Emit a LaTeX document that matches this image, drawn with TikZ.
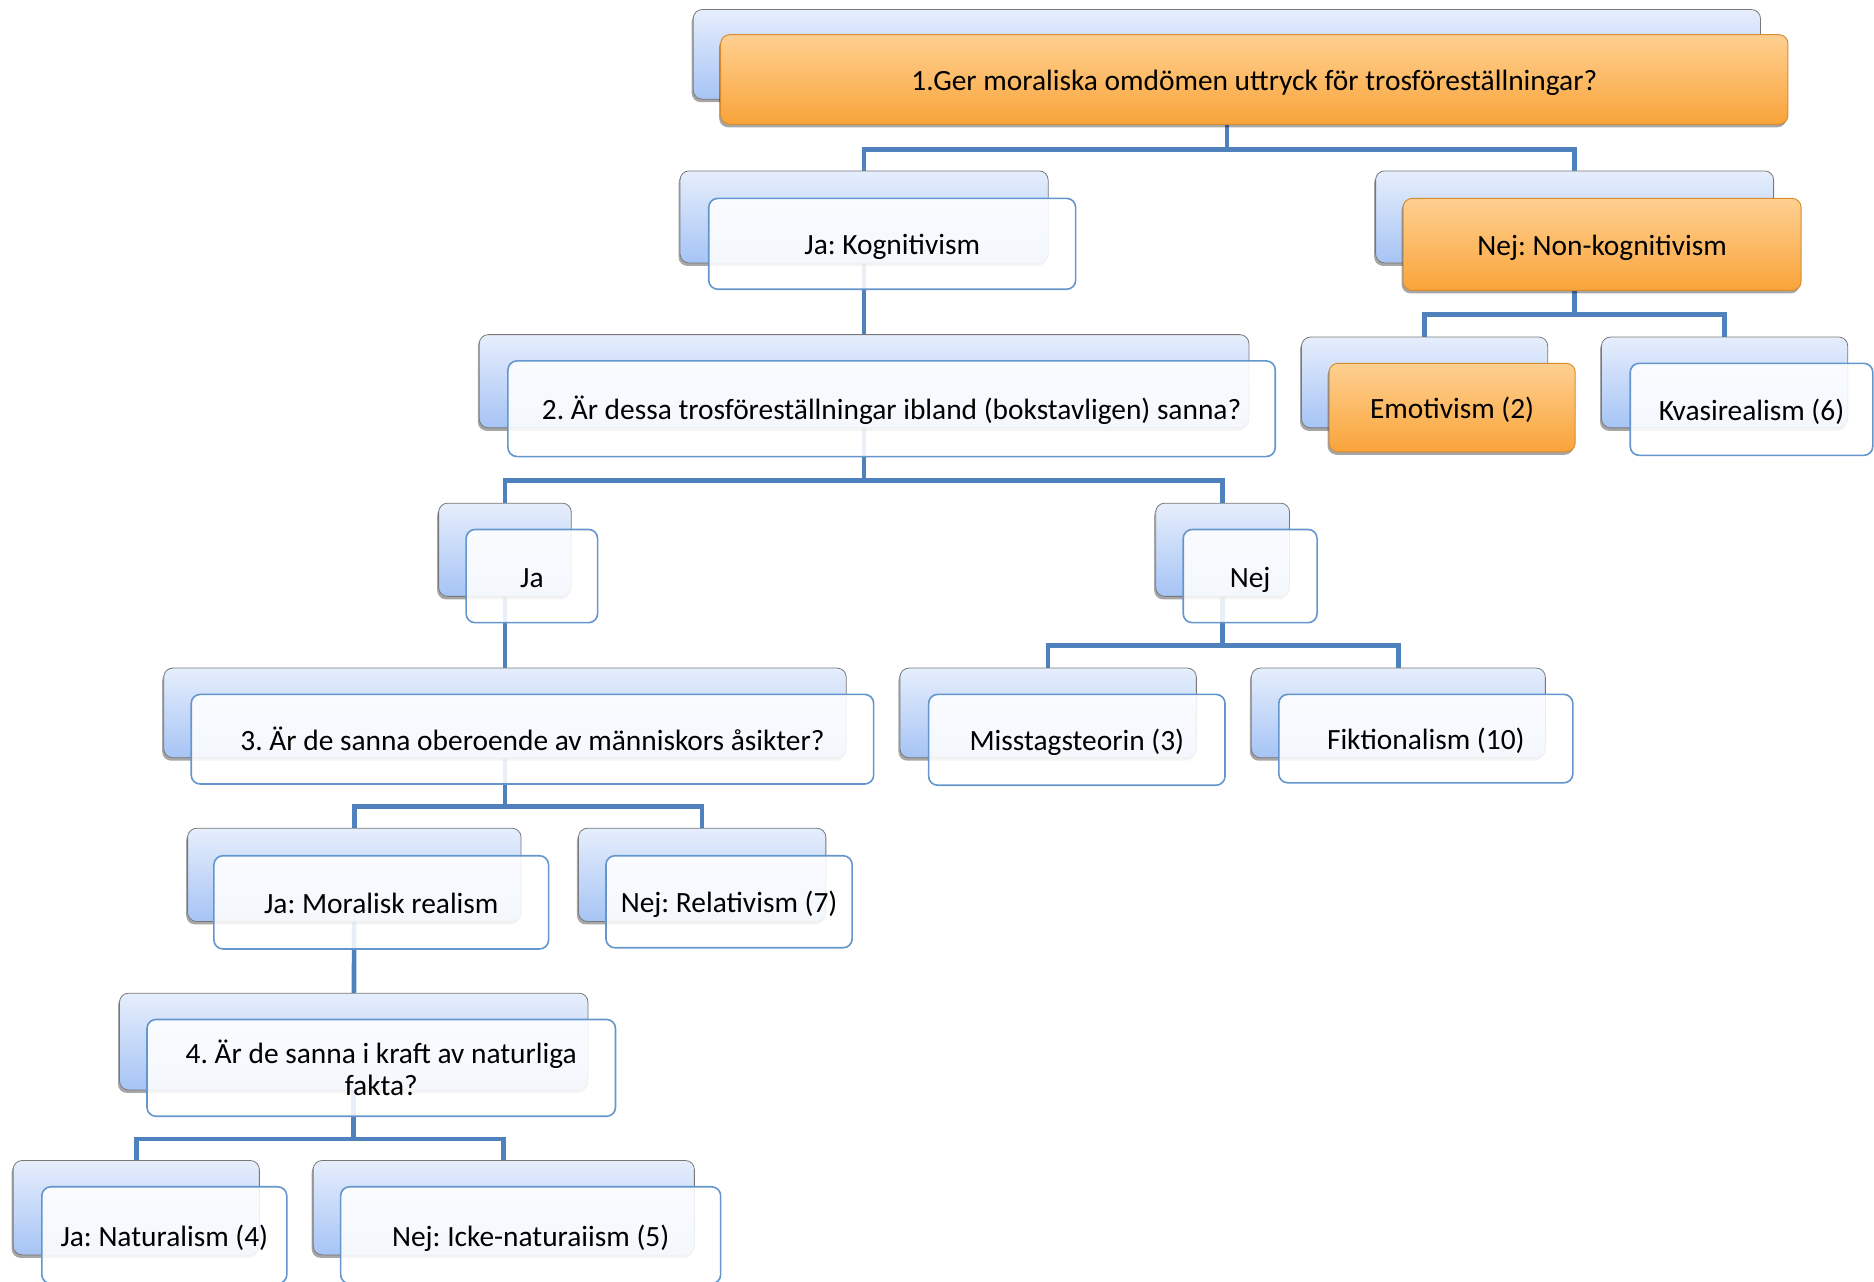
\documentclass[tikz,border=0pt]{standalone}
\usepackage{fontspec}
\setmainfont{Carlito}
\frenchspacing
\usetikzlibrary{shadows}
\pgfdeclarelayer{background}
\pgfsetlayers{background,main}
\definecolor{btop}{RGB}{230,238,252}
\definecolor{bbot}{RGB}{166,196,245}
\definecolor{bgray}{RGB}{120,120,120}
\definecolor{fblue}{RGB}{100,150,205}
\definecolor{otop}{RGB}{255,208,145}
\definecolor{obot}{RGB}{249,164,58}
\definecolor{obord}{RGB}{215,140,50}
\definecolor{cblue}{RGB}{79,129,189}
\tikzset{
  backbox/.style={draw=bgray, line width=0.8pt, rounded corners=9pt, top color=btop, bottom color=bbot, inner sep=0pt,
    drop shadow={shadow xshift=-1.5pt, shadow yshift=-3pt, opacity=0.35, fill=black}},
  frontbase/.style={draw=fblue, line width=1.6pt, rounded corners=9pt, fill=white, fill opacity=0.88, text opacity=1,
    inner sep=0pt, font=\fontsize{29.4}{32}\selectfont},
  oneline/.style={text height=28pt, text depth=6pt},
  frontbox/.style={frontbase, oneline},
  frontmulti/.style={frontbase, align=center},
  orangebox/.style={draw=obord, line width=1pt, rounded corners=9pt, top color=otop, bottom color=obot, inner sep=0pt,
    font=\fontsize{29.4}{32}\selectfont, oneline,
    drop shadow={shadow xshift=-1.5pt, shadow yshift=-3pt, opacity=0.35, fill=black}},
  conn/.style={draw=cblue, line width=4.6pt}
}
% \bx{style}{name}{x1}{y1}{x2}{y2}{text}
\newcommand\bx[7]{\node[#1, minimum width={(#5-#3)*1.1952pt}, minimum height={(#6-#4)*1.1952pt}]
  (#2) at ({(#3+#5)/2},{(#4+#6)/2}) {#7};}
\begin{document}
\begin{tikzpicture}[x=1.1952pt,y=-1.1952pt]
\useasboundingbox (0,0) rectangle (1568,1072);
\clip (0,0) rectangle (1568,1072);
% level 1
\bx{backbox}{topb}{580}{8}{1473}{83}{}
\bx{orangebox}{topf}{603}{29}{1496}{104}{1.Ger moraliska omdömen uttryck för trosföreställningar?}
% level 2
\bx{backbox}{kogb}{569}{143}{877}{220}{}
\bx{frontbox}{kogf}{593}{166}{900}{242}{Ja: Kognitivism}
\bx{backbox}{nonb}{1151}{143}{1484}{220}{}
\bx{orangebox}{nonf}{1174}{166}{1507}{243}{Nej: Non-kognitivism}
% level 3
\bx{backbox}{q2b}{401}{280}{1045}{358}{}
\bx{frontbox}{q2f}{425}{302}{1067}{382}{2. Är dessa trosföreställningar ibland (bokstavligen) sanna?}
\bx{backbox}{emob}{1089}{282}{1295}{358}{}
\bx{orangebox}{emof}{1112}{304}{1318}{378}{Emotivism (2)}
\bx{backbox}{kvab}{1340}{282}{1546}{358}{}
\bx{frontbox}{kvaf}{1364}{304}{1567}{381}{Kvasirealism (6)}
% level 4
\bx{backbox}{jab}{367}{421}{478}{499}{}
\bx{frontbox}{jaf}{390}{443}{500}{521}{Ja}
\bx{backbox}{nejb}{967}{421}{1079}{499}{}
\bx{frontbox}{nejf}{990}{443}{1102}{521}{Nej}
% level 5
\bx{backbox}{q3b}{137}{559}{708}{634}{}
\bx{frontbox}{q3f}{160}{581}{731}{656}{3. Är de sanna oberoende av människors åsikter?}
\bx{backbox}{misb}{753}{559}{1001}{634}{}
\bx{frontbox}{misf}{777}{581}{1025}{657}{Misstagsteorin (3)}
\bx{backbox}{fikb}{1047}{559}{1293}{634}{}
\bx{frontbox}{fikf}{1070}{581}{1316}{655}{Fiktionalism (10)}
% level 6
\bx{backbox}{morb}{157}{693}{436}{771}{}
\bx{frontbox}{morf}{179}{716}{459}{794}{Ja: Moralisk realism}
\bx{backbox}{relb}{484}{693}{691}{771}{}
\bx{frontbox}{relf}{507}{716}{713}{793}{Nej: Relativism (7)}
% level 7
\bx{backbox}{q4b}{100}{831}{492}{912}{}
\bx{frontmulti}{q4f}{123}{853}{515}{934}{4. Är de sanna i kraft av naturliga\\fakta?}
% level 8
\bx{backbox}{natb}{11}{971}{217}{1050}{}
\bx{frontbox}{natf}{35}{993}{240}{1074}{Ja: Naturalism (4)}
\bx{backbox}{ickb}{262}{971}{581}{1050}{}
\bx{frontbox}{ickf}{285}{993}{603}{1074}{Nej: Icke-naturaiism (5)}
% bar heights
\coordinate (h1) at (0,125);
\coordinate (h3) at (0,402);
\coordinate (h4) at (0,540);
\coordinate (h5) at (0,675);
\coordinate (h6) at (0,953);
\coordinate (h7) at (0,263);
\begin{pgfonlayer}{background}
\draw[conn] (topb.center) -- (topb.center |- h1) -| (kogb.center);
\draw[conn] (topb.center |- h1) -| (nonb.center);
\draw[conn] (kogb.center) -- (q2b.center);
\draw[conn] (nonb.center) -- (nonb.center |- h7) -| (emob.center);
\draw[conn] (nonb.center |- h7) -| (kvab.center);
\draw[conn] (q2b.center) -- (q2b.center |- h3) -| (jab.center);
\draw[conn] (q2b.center |- h3) -| (nejb.center);
\draw[conn] (jab.center) -- (q3b.center);
\draw[conn] (nejb.center) -- (nejb.center |- h4) -| (misb.center);
\draw[conn] (nejb.center |- h4) -| (fikb.center);
\draw[conn] (q3b.center) -- (q3b.center |- h5) -| (morb.center);
\draw[conn] (q3b.center |- h5) -| (relb.center);
\draw[conn] (morb.center) -- (q4b.center);
\draw[conn] (q4b.center) -- (q4b.center |- h6) -| (natb.center);
\draw[conn] (q4b.center |- h6) -| (ickb.center);
\end{pgfonlayer}
\end{tikzpicture}
\end{document}
